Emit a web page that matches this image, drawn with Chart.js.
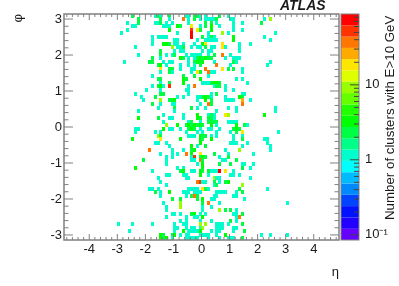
<!DOCTYPE html>
<html>
<head>
<meta charset="utf-8">
<script src="https://cdn.jsdelivr.net/npm/chart.js@4"></script>
<style>
html, body { margin: 0; padding: 0; background: #fff; }
#wrap { position: relative; width: 399px; height: 286px; }
</style>
</head>
<body>
<div id="wrap"><canvas id="chart" width="399" height="286"></canvas></div>
<script>
// eta bin centres, 98 bins
const etaBins = [-4.85,-4.75,-4.65,-4.55,-4.45,-4.35,-4.25,-4.15,-4.05,-3.95,-3.85,-3.75,-3.65,-3.55,-3.45,-3.35,-3.25,-3.15,-3.05,-2.95,
  -2.85,-2.75,-2.65,-2.55,-2.45,-2.35,-2.25,-2.15,-2.05,-1.95,-1.85,-1.75,-1.65,-1.55,-1.45,-1.35,-1.25,-1.15,-1.05,-0.95,
  -0.85,-0.75,-0.65,-0.55,-0.45,-0.35,-0.25,-0.15,-0.05,0.05,0.15,0.25,0.35,0.45,0.55,0.65,0.75,0.85,0.95,1.05,
  1.15,1.25,1.35,1.45,1.55,1.65,1.75,1.85,1.95,2.05,2.15,2.25,2.35,2.45,2.55,2.65,2.75,2.85,2.95,3.05,
  3.15,3.25,3.35,3.45,3.55,3.65,3.75,3.85,3.95,4.05,4.15,4.25,4.35,4.45,4.55,4.65,4.75,4.85];
// phi bin centres, top to bottom, 64 bins
const phiBins = [3.09,2.99,2.90,2.80,2.70,2.60,2.50,2.41,2.31,2.21,2.11,2.01,1.91,1.82,1.72,1.62,
  1.52,1.42,1.33,1.23,1.13,1.03,0.93,0.83,0.74,0.64,0.54,0.44,0.34,0.25,0.15,0.05,
  -0.05,-0.15,-0.25,-0.34,-0.44,-0.54,-0.64,-0.74,-0.83,-0.93,-1.03,-1.13,-1.23,-1.33,-1.42,-1.52,
  -1.62,-1.72,-1.82,-1.91,-2.01,-2.11,-2.21,-2.31,-2.41,-2.50,-2.60,-2.70,-2.80,-2.90,-2.99,-3.09];
// one list per phi row: etaBin index, count, etaBin index, count, ...
const clusterRows = [
  [24,2,32,1,33,2,34,1,37,2,43,1,44,1,46,2,47,2,48,1,50,1,55,2,58,1],
  [26,2,34,2,37,1,42,36,44,1,46,2,48,1,50,1,51,1,52,1,53,1,54,2,59,1,60,1,71,1,73,8],
  [22,1,26,2,32,1,33,1,34,2,36,1,38,1,44,1,50,2,52,2,54,1,60,1,63,1,70,2],
  [24,1,25,1,35,1,36,1,37,1,40,3,41,2,45,18,48,1,50,2,52,3,55,1,60,1],
  [22,1,37,3,45,50,47,18,48,2,52,3,60,1,63,1],
  [20,1,40,1,45,70,51,1,56,8,58,1,75,1],
  [31,1,33,1,34,1,35,1,36,1,45,70,49,2,51,1,52,2,53,1,60,3,71,1],
  [31,1,39,1,40,1,47,1,50,1,51,1,52,1,53,1,54,1,60,3,73,1],
  [31,1,35,3,36,3,37,2,39,1,40,1,42,1,46,1,49,3,50,18,56,18,62,1,66,1],
  [25,1,38,8,40,1,41,1,42,2,45,1,47,1,48,1,50,2,52,1,53,1,56,18,57,1,62,1],
  [34,2,39,1,41,1,42,1,49,1,51,1,52,1,62,1],
  [26,1,34,2,36,1,38,1,39,2,43,1,45,1,46,1,47,1,48,1,51,1,53,2,56,36,59,1],
  [31,2,34,1,41,3,42,2,44,1,46,1,47,2,48,3,49,2,50,3,51,2,52,2,57,1,60,1,61,1,62,1],
  [21,1,30,2,31,2,35,1,37,1,38,1,44,1,46,2,47,3,48,2,49,3,53,1,60,2,61,1,73,1],
  [33,2,34,3,36,1,41,1,44,1,46,1,48,2,54,36,59,1,72,1],
  [34,18,37,2,38,2,41,1,45,1,46,1,50,36,56,18,58,2,60,2,63,1],
  [34,1,37,2,38,1,45,1,47,18,48,2,51,36,52,1,53,1,63,1],
  [31,1,42,2,46,2,51,1],
  [33,2,34,2,42,3,43,2,48,3,61,1,63,1],
  [34,1,37,2,42,3,49,1,50,1,51,1,52,2,53,3,54,3,55,2,65,1],
  [31,1,33,2,34,3,35,1,37,50,44,1,46,36,53,1,54,2,55,2,57,1],
  [29,1,34,1,43,1,44,1,57,1,60,1],
  [25,1,34,2,35,2,44,1,52,1,54,2,63,1,64,1],
  [27,1,32,2,40,1,42,1,47,1,48,1,49,2,50,3,51,2,52,1,57,1,62,3,63,2],
  [28,1,34,8,37,2,38,2,39,3,47,1,50,3,52,2,57,1,58,1,59,1,60,1,63,25,66,1],
  [31,2,34,1,38,1,39,1,48,1,51,36,52,2,63,36],
  [33,1,39,2,45,2,47,1,50,1,58,1,61,1,75,1],
  [26,1,39,1,54,1,61,1,75,1],
  [35,1,42,1,47,3,51,1,52,2,53,1,57,18,58,8,71,3],
  [26,3,33,2,37,1,38,1,42,1,47,3,48,2,51,2,52,2,53,1],
  [35,1,44,1,45,2,48,1,51,2,52,2,53,2,54,2,58,1,59,1,60,1,61,1],
  [36,8,40,3,43,2,44,3,45,2,46,3,47,2,48,3,49,2,52,3,54,1,61,3,64,2,65,1],
  [25,1,26,1,35,3,37,1,38,1,41,1,44,2,45,3,46,2,48,1,51,1,52,1,55,1,60,2,61,3,62,2],
  [25,1,32,1,34,1,43,1,47,1,49,1,54,1,59,1,61,2,63,18,76,1],
  [33,8,34,2,44,1,45,1,46,1,48,3,49,2,50,2,52,1,54,1,60,1,63,1],
  [24,3,34,18,41,3,48,3,49,2,52,3,60,1,63,2,71,1,72,1],
  [32,1,33,1,36,1,48,3,59,1,60,1,61,1,65,1,72,1],
  [37,1,45,3,47,1,50,2,63,1,73,1],
  [30,36,38,1,42,1,45,2,46,3,57,1,62,8,73,1],
  [34,1,38,1,40,1,43,36,45,3,48,18,53,2,58,1,67,1],
  [36,1,38,1,45,1,46,50,48,2,49,3,50,2,55,1,58,2],
  [28,2,36,1,45,1,46,1,48,36,49,2,56,1,57,1,61,2],
  [36,1,47,1,49,3,55,2,59,2,63,1,64,1,67,1],
  [25,3,40,1,42,1,49,3,63,2,66,1],
  [31,1,41,2,42,3,45,1,46,1,48,3,49,2,51,2,52,1,53,1,54,1,55,70,57,18,60,1],
  [36,1,37,1,42,1,43,1,48,3,51,1,59,1,60,1,62,1],
  [33,1,43,1,44,1,53,8,54,1,55,1,66,1],
  [34,1,47,36,48,50,49,1,50,1,53,2,55,1,57,2,58,3],
  [36,1,53,1,54,2,63,8],
  [30,1,31,1,33,1,44,1,45,1,46,1,47,1,49,18,50,2,51,1,62,2,72,1],
  [32,2,34,1,37,3,42,1,43,1,44,1,46,1,47,1,48,1,54,1,55,1,56,1,57,1,61,1,63,2],
  [34,1,43,1,45,2,46,36,47,2,53,1,54,1,60,1,61,1],
  [38,2,41,2,47,2,49,3,52,1,53,1,64,1],
  [35,1,41,8,49,2,51,36,55,1,79,1],
  [36,1,41,8,49,1,52,1],
  [36,1,49,1,55,8,57,2,59,2,61,1],
  [38,1,39,1,41,1,45,2,46,3,48,1,50,1,60,1,61,1,63,2],
  [36,1,43,1,46,1,47,1,49,3,61,1,62,36],
  [41,1,43,1,48,1,52,1,59,2,61,1],
  [19,1,24,1,31,1,39,1,42,1,43,1,48,8,50,8,54,1,55,1,56,1,58,1,63,2],
  [39,1,40,1,43,1,45,1,46,1,48,1,49,8,54,1,55,1,56,1,60,1,61,1],
  [23,1,39,1,42,3,44,1,45,1,46,1,47,1,48,3,52,1,54,1,55,1,60,1,64,2],
  [34,3,35,2,38,2,39,3,41,1,43,1,44,1,48,1,49,1,50,1,51,1,54,1,57,3,70,1,73,1,79,1],
  [34,3,35,2,36,3,38,1,43,1,44,1,45,1,46,1,47,1,51,1,55,1,58,1,59,1,60,1,63,2]
];

const etaMajorTicks = [-4,-3,-2,-1,0,1,2,3,4];
const etaMinorTicks = [-4.8,-4.6,-4.4,-4.2,-3.8,-3.6,-3.4,-3.2,-2.8,-2.6,-2.4,-2.2,-1.8,-1.6,-1.4,-1.2,-0.8,-0.6,-0.4,-0.2,
  0.2,0.4,0.6,0.8,1.2,1.4,1.6,1.8,2.2,2.4,2.6,2.8,3.2,3.4,3.6,3.8,4.2,4.4,4.6,4.8];
const phiMajorTicks = [-3,-2,-1,0,1,2,3];
const phiMinorTicks = [-2.8,-2.6,-2.4,-2.2,-1.8,-1.6,-1.4,-1.2,-0.8,-0.6,-0.4,-0.2,0.2,0.4,0.6,0.8,1.2,1.4,1.6,1.8,2.2,2.4,2.6,2.8];
const zMajorTicks = [0.1,1,10];
const zMinorTicks = [0.2,0.3,0.4,0.5,0.6,0.7,0.8,0.9,2,3,4,5,6,7,8,9,20,30,40,50,60,70,80];
// colour bar: 20 bands, edges on the z axis, colours bottom to top
const zEdges = [0.0851,0.12,0.17,0.241,0.341,0.483,0.683,0.966,1.367,1.936,2.738,3.875,5.48,7.76,10.98,15.5,22,31.1,44,62.2,88.1];
const zColors = ['#6600ff','#2200ff','#0011ff','#0044ff','#0088ff','#00bbff','#00ffff','#00ffcc','#00ff88','#00ff44',
  '#00ff00','#22ff00','#66ff00','#99ff00','#ddff00','#ffe600','#ffaa00','#ff7700','#ff3300','#ff0000'];

const textColor = '#1a1a1a';
const axisColor = '#808080';
const labelFont = { family: '"Liberation Sans", Arial, sans-serif', size: 13 };
const cellW = 3, cellH = 4;

function colorFor(count) {
    for (let k = 0; k < zColors.length; k++) {
        if (count < zEdges[k + 1]) return zColors[k];
    }
    return zColors[zColors.length - 1];
}

const cellImages = {};
function cellImage(color) {
    if (!cellImages[color]) {
        const c = document.createElement('canvas');
        c.width = cellW; c.height = cellH;
        const g = c.getContext('2d');
        g.fillStyle = color;
        g.fillRect(0, 0, cellW, cellH);
        cellImages[color] = c;
    }
    return cellImages[color];
}

// tick padding otherwise leaks into the layout as chart area margin
function noPadding(s) {
    s.paddingTop = 0; s.paddingBottom = 0; s.paddingLeft = 0; s.paddingRight = 0;
}

const points = [];
clusterRows.forEach((row, j) => {
    for (let n = 0; n < row.length; n += 2) {
        points.push({ x: etaBins[row[n]], y: phiBins[j], count: row[n + 1] });
    }
});

const inwardTicks = {
    id: 'inwardTicks',
    afterDatasetsDraw(chart) {
        const { ctx, chartArea: a, scales: { x, y, z } } = chart;
        ctx.save();
        ctx.strokeStyle = axisColor;
        ctx.lineWidth = 1;
        const line = (x1, y1, x2, y2) => { ctx.beginPath(); ctx.moveTo(x1, y1); ctx.lineTo(x2, y2); ctx.stroke(); };
        etaMajorTicks.forEach(v => { const p = x.getPixelForValue(v); line(p, a.bottom, p, a.bottom - 6); line(p, a.top, p, a.top + 6); });
        etaMinorTicks.forEach(v => { const p = x.getPixelForValue(v); line(p, a.bottom, p, a.bottom - 3); line(p, a.top, p, a.top + 3); });
        phiMajorTicks.forEach(v => { const p = y.getPixelForValue(v); line(a.left, p, a.left + 9, p); line(a.right, p, a.right - 9, p); });
        phiMinorTicks.forEach(v => { const p = y.getPixelForValue(v); line(a.left, p, a.left + 4.5, p); line(a.right, p, a.right - 4.5, p); });
        ctx.lineWidth = 1.5;
        ctx.strokeRect(a.left, a.top, a.right - a.left, a.bottom - a.top);

        // colour bar
        const barL = 341, barR = 359;
        zColors.forEach((col, k) => {
            const top = z.getPixelForValue(zEdges[k + 1]);
            const bot = z.getPixelForValue(zEdges[k]);
            ctx.fillStyle = col;
            ctx.fillRect(barL, top, barR - barL, bot - top);
        });
        ctx.lineWidth = 1;
        ctx.strokeRect(barL, a.top, barR - barL, a.bottom - a.top);
        ctx.strokeStyle = '#444';
        zMajorTicks.forEach(v => { const p = z.getPixelForValue(v); line(barR, p, barR - 9, p); });
        zMinorTicks.forEach(v => { const p = z.getPixelForValue(v); line(barR, p, barR - 5, p); });

        ctx.fillStyle = textColor;
        ctx.font = 'italic bold 14px "Liberation Sans", Arial, sans-serif';
        ctx.textAlign = 'left';
        ctx.textBaseline = 'middle';
        ctx.fillText('ATLAS', 280, 6);

        ctx.translate(390, 220);
        ctx.rotate(-Math.PI / 2);
        ctx.font = '13.3px "Liberation Sans", Arial, sans-serif';
        ctx.fillText('Number of clusters with E>10 GeV', 0, 0);
        ctx.restore();
    }
};

new Chart(document.getElementById('chart'), {
    type: 'scatter',
    data: {
        datasets: [{
            data: points,
            pointRadius: 2,
            pointHoverRadius: 2,
            pointStyle: ctx => cellImage(colorFor(ctx.raw ? ctx.raw.count : 1))
        }]
    },
    options: {
        responsive: false,
        animation: false,
        events: [],
        layout: { padding: { top: 14 } },
        plugins: { legend: { display: false }, tooltip: { enabled: false } },
        scales: {
            x: {
                type: 'linear', min: -4.9, max: 4.9,
                afterBuildTicks: s => { s.ticks = etaMajorTicks.map(value => ({ value })); },
                afterFit: s => { s.height = 46; noPadding(s); },
                grid: { display: false, drawTicks: false },
                border: { display: false },
                ticks: { color: textColor, font: labelFont, padding: 2, maxRotation: 0, autoSkip: false },
                title: { display: true, text: 'η', align: 'end', color: textColor, font: labelFont, padding: { top: 0, bottom: 6 } }
            },
            y: {
                type: 'linear', min: -3.14, max: 3.14,
                afterBuildTicks: s => { s.ticks = phiMajorTicks.map(value => ({ value })); },
                afterFit: s => { s.width = 64; noPadding(s); },
                grid: { display: false, drawTicks: false },
                border: { display: false },
                ticks: { color: textColor, font: labelFont, padding: 2, autoSkip: false },
                title: { display: true, text: 'φ', align: 'end', color: textColor, font: labelFont, padding: { top: 11, bottom: 0 } }
            },
            z: {
                type: 'logarithmic', position: 'right', min: 0.0851, max: 88.1,
                afterBuildTicks: s => { s.ticks = zMajorTicks.map(value => ({ value })); },
                afterFit: s => { s.width = 60; noPadding(s); },
                grid: { display: false, drawTicks: false },
                border: { display: false },
                ticks: {
                    color: textColor, font: labelFont, padding: 26, autoSkip: false,
                    callback: v => (v === 0.1 ? '10⁻¹' : String(v))
                }
            }
        }
    },
    plugins: [inwardTicks]
});
</script>
</body>
</html>
